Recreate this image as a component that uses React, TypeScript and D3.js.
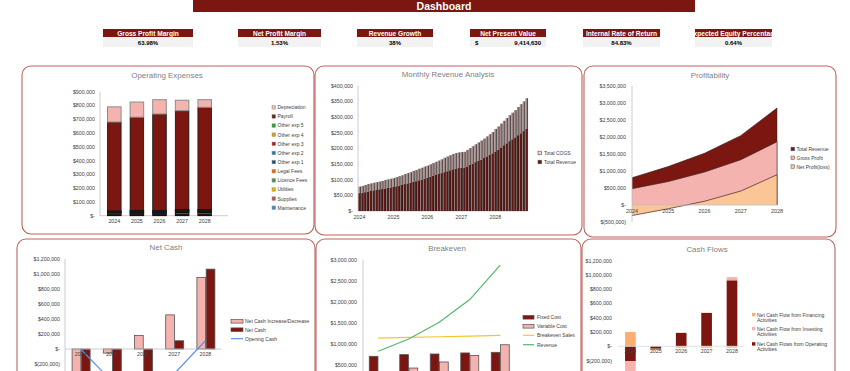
import React, { useEffect, useRef } from 'react';
import * as d3 from 'd3';

// ---- data ----
const years = ['2024', '2025', '2026', '2027', '2028'];

const kpiLabels = ['Gross Profit Margin', 'Net Profit Margin', 'Revenue Growth', 'Net Present Value', 'Internal Rate of Return', 'Expected Equity Percentage'];
const kpiValues = ['63.98%', '1.53%', '38%', '9,414,630', '84.83%', '0.64%'];

// operating expenses ($)
const maintenance = [5000, 5000, 5000, 6000, 6000];
const supplies = [6000, 6000, 6000, 7000, 7000];
const utilities = [8000, 4000, 4000, 9000, 9000];
const licenceFees = [4000, 3000, 3000, 5000, 5000];
const legalFees = [2000, 4000, 4000, 3000, 3000];
const otherExp1 = [2000, 3000, 3000, 3000, 3000];
const otherExp2 = [2000, 3000, 3000, 3000, 3000];
const otherExp3 = [2000, 4000, 4000, 3000, 3000];
const otherExp4 = [2000, 3000, 3000, 3000, 3000];
const otherExp5 = [2000, 3000, 3000, 3000, 3000];
const payroll = [645000, 677000, 700000, 717000, 742000];
const depreciation = [110000, 110000, 104000, 76000, 55000];

// monthly revenue analysis (thousands), 60 months
const monthlyRevenue = [
  57, 58, 60, 62, 64, 66, 67, 69, 70, 72, 74, 75,
  77, 79, 81, 83, 86, 88, 90, 93, 95, 98, 100, 103,
  106, 109, 112, 115, 118, 121, 124, 127, 130, 133, 135, 137,
  138, 139, 142, 147, 151, 156, 160, 164, 169, 174, 179, 184,
  190, 195, 203, 210, 216, 223, 229, 235, 242, 248, 255, 263,
];
const monthlyCogs = [
  21, 22, 23, 24, 24, 24, 25, 25, 26, 27, 27, 28,
  28, 29, 30, 31, 32, 33, 34, 35, 36, 37, 38, 39,
  39, 40, 41, 42, 43, 44, 46, 47, 48, 49, 50, 50,
  50, 50, 53, 54, 56, 57, 59, 61, 62, 64, 66, 68,
  72, 75, 76, 78, 81, 83, 85, 87, 90, 93, 95, 97,
];

// profitability
const totalRevenue = [800000, 1130000, 1520000, 2040000, 2850000];
const grossProfit = [480000, 690000, 970000, 1330000, 1860000];
const netProfit = [-310000, -110000, 110000, 410000, 890000];

// net cash
const netCashChange = [-430000, -55000, 180000, 455000, 955000];
const netCash = [-430000, -490000, -330000, 110000, 1065000];
const openingCash = [0, -430000, -490000, -330000, 110000];

// breakeven
const fixedCost = [700000, 740000, 755000, 780000, 795000];
const variableCost = [320000, 420000, 565000, 720000, 975000];
const breakevenSales = [1135000, 1150000, 1165000, 1180000, 1200000];
const beRevenue = [820000, 1110000, 1510000, 2050000, 2870000];

// cash flows
const cfOperating = [-210000, -35000, 187000, 467000, 925000];
const cfInvesting = [-300000, -5000, 5000, 5000, 45000];
const cfFinancing = [200000, -15000, -20000, -20000, -20000];

const DARK = '#7b1610';
const PINK = '#f4b3ae';
const PEACH = '#fbc596';
const FONT = 'Liberation Sans, Arial, sans-serif';

const money = (v: number) => {
  if (v === 0) return '$-';
  if (v < 0) return `$(${d3.format(',')(-v)})`;
  return `$${d3.format(',')(v)}`;
};

const App = () => {
  const svgRef = useRef<SVGSVGElement>(null);

  useEffect(() => {
    const svg = d3.select(svgRef.current);
    svg.selectAll('*').remove();

    // ---------- header ----------
    svg.append('rect').attr('x', 193).attr('y', 0).attr('width', 502).attr('height', 12).attr('fill', DARK);
    svg.append('text').attr('x', 444).attr('y', 9.5).attr('text-anchor', 'middle')
      .attr('font-size', 10.5).attr('font-weight', 'bold').attr('fill', '#fff').text('Dashboard');

    const kpiX = [103, 238, 357, 470, 583, 695];
    const kpiW = [90, 83, 76, 76, 77, 77];
    const defs = svg.append('defs');
    kpiLabels.forEach((label, i) => {
      const x = kpiX[i];
      const w = kpiW[i];
      defs.append('clipPath').attr('id', `kpi${i}`)
        .append('rect').attr('x', x).attr('y', 28).attr('width', w).attr('height', 20);
      svg.append('rect').attr('x', x).attr('y', 29).attr('width', w).attr('height', 8).attr('fill', DARK);
      svg.append('rect').attr('x', x).attr('y', 37).attr('width', w).attr('height', 10).attr('fill', '#f2f2f2');
      svg.append('text').attr('clip-path', `url(#kpi${i})`)
        .attr('x', x + w / 2).attr('y', 35.5).attr('text-anchor', 'middle')
        .attr('font-size', 6.6).attr('font-weight', 'bold').attr('fill', '#fff').text(label);
      if (i === 3) {
        svg.append('text').attr('x', x + 5).attr('y', 45).attr('font-size', 6)
          .attr('font-weight', 'bold').text('$');
        svg.append('text').attr('x', x + w - 5).attr('y', 45).attr('text-anchor', 'end')
          .attr('font-size', 6).attr('font-weight', 'bold').text(kpiValues[i]);
      } else {
        svg.append('text').attr('x', x + w / 2).attr('y', 45).attr('text-anchor', 'middle')
          .attr('font-size', 6).attr('font-weight', 'bold').text(kpiValues[i]);
      }
    });

    // ---------- helpers ----------
    const panel = (x: number, y: number, w: number, h: number, title: string, tx: number, ty: number) => {
      svg.append('rect').attr('x', x).attr('y', y).attr('width', w).attr('height', h).attr('rx', 9)
        .attr('fill', '#fff').attr('stroke', '#c0625e').attr('stroke-width', 1.1);
      svg.append('text').attr('x', tx).attr('y', ty + 3).attr('text-anchor', 'middle')
        .attr('font-size', 7.9).attr('fill', '#7f7f7f').text(title);
    };

    const yLabels = (scale: d3.ScaleLinear<number, number>, ticks: number[], xr: number) => {
      ticks.filter(t => scale(t) + 2 < 369).forEach(t => {
        svg.append('text').attr('x', xr).attr('y', scale(t) + 2).attr('text-anchor', 'end')
          .attr('font-size', 5.3).attr('fill', '#404040').text(money(t));
      });
    };

    const axisLine = (x1: number, y1: number, x2: number, y2: number, color = '#bfbfbf') => {
      svg.append('line').attr('x1', x1).attr('y1', y1).attr('x2', x2).attr('y2', y2)
        .attr('stroke', color).attr('stroke-width', 0.8);
    };

    const legendText = (x: number, y: number, t: string) => {
      svg.append('text').attr('x', x).attr('y', y + 1.9).attr('font-size', 5).attr('fill', '#404040').text(t);
    };

    const yearLabels = (xs: (y: string) => number, y: number) => {
      years.forEach(yr => {
        svg.append('text').attr('x', xs(yr)).attr('y', y).attr('text-anchor', 'middle')
          .attr('font-size', 5.3).attr('fill', '#404040').text(yr);
      });
    };

    // ---------- Operating Expenses ----------
    panel(22, 66, 292, 168, 'Operating Expenses', 167, 75);
    const opexKeys = ['Maintenance', 'Supplies', 'Utilities', 'Licence Fees', 'Legal Fees', 'Other exp 1',
      'Other exp 2', 'Other exp 3', 'Other exp 4', 'Other exp 5', 'Payroll', 'Depreciation'];
    const opexArrays = [maintenance, supplies, utilities, licenceFees, legalFees, otherExp1, otherExp2,
      otherExp3, otherExp4, otherExp5, payroll, depreciation];
    const opexColors = ['#4f81bd', '#c0504d', '#e6b000', '#3f9a48', '#e46c0a', '#1f4e79', '#2e75b6',
      '#b01c16', '#d6a000', '#3a9a3a', DARK, PINK];
    const opexRows = years.map((yr, i) => {
      const r: any = { year: yr };
      opexKeys.forEach((k, j) => { r[k] = opexArrays[j][i]; });
      return r;
    });
    const opexStack = d3.stack().keys(opexKeys)(opexRows);
    const oy = d3.scaleLinear().domain([0, 900000]).range([215.7, 91.7]);
    const ox = d3.scaleBand().domain(years).range([103, 216]).paddingInner(0.4).paddingOuter(0.2);
    yLabels(oy, d3.range(0, 900001, 100000), 95);
    axisLine(100, 91.7, 100, 215.7);
    axisLine(100, 215.7, 228, 215.7);
    opexStack.forEach((s, j) => {
      svg.append('g').selectAll('rect').data(s).enter().append('rect')
        .attr('x', d => ox(d.data.year as any)!)
        .attr('width', ox.bandwidth())
        .attr('y', d => oy(d[1]))
        .attr('height', d => oy(d[0]) - oy(d[1]))
        .attr('fill', opexColors[j])
        .attr('stroke', j === 11 ? '#8c8c8c' : '#111')
        .attr('stroke-width', j === 11 ? 1 : 0.8);
    });
    yearLabels(yr => ox(yr)! + ox.bandwidth() / 2, 223);
    [...opexKeys].reverse().forEach((k, i) => {
      const y = 107.3 + i * 9.13;
      svg.append('rect').attr('x', 272).attr('y', y - 1.8).attr('width', 3.6).attr('height', 3.6)
        .attr('fill', opexColors[11 - i]).attr('stroke', '#999').attr('stroke-width', 0.5);
      legendText(277.5, y, k);
    });

    // ---------- Monthly Revenue Analysis ----------
    panel(315, 66, 267, 169, 'Monthly Revenue Analysis', 448, 74.3);
    const months = d3.range(monthlyRevenue.length);
    const my = d3.scaleLinear().domain([0, 400]).range([211, 85.7]);
    const mx = d3.scaleBand<number>().domain(months).range([358, 528]).paddingInner(0.25).paddingOuter(0.15);
    yLabels(d3.scaleLinear().domain([0, 400000]).range([211, 85.7]), d3.range(0, 400001, 50000), 353);
    axisLine(358, 85.7, 358, 211);
    axisLine(358, 211, 528, 211);
    const monthRows = months.map(i => ({ m: i, rev: monthlyRevenue[i], cogs: monthlyCogs[i] }));
    const mStack = d3.stack<any>().keys(['rev', 'cogs'])(monthRows);
    const mColors = ['#5e1a15', '#a48a88'];
    mStack.forEach((s, j) => {
      svg.append('g').selectAll('rect').data(s).enter().append('rect')
        .attr('x', d => mx(d.data.m)!)
        .attr('width', mx.bandwidth())
        .attr('y', d => my(d[1]))
        .attr('height', d => my(d[0]) - my(d[1]))
        .attr('fill', mColors[j]);
    });
    svg.append('g').selectAll('line').data(monthRows).enter().append('line')
      .attr('x1', d => mx(d.m)! + mx.bandwidth()).attr('x2', d => mx(d.m)! + mx.bandwidth())
      .attr('y1', d => my(d.rev + d.cogs)).attr('y2', my(0))
      .attr('stroke', '#111').attr('stroke-width', 0.7);
    years.forEach((yr, i) => {
      svg.append('text').attr('x', mx(i * 12)! + mx.bandwidth() / 2).attr('y', 219)
        .attr('text-anchor', 'middle').attr('font-size', 5.3).attr('fill', '#404040').text(yr);
    });
    [['Total COGS', '#f4d6d4'], ['Total Revenue', '#5e1a15']].forEach(([t, c], i) => {
      const y = 153 + i * 9;
      svg.append('rect').attr('x', 538).attr('y', y - 1.8).attr('width', 3.6).attr('height', 3.6)
        .attr('fill', c).attr('stroke', '#555').attr('stroke-width', 0.6);
      legendText(544, y, t);
    });

    // ---------- Profitability ----------
    panel(584, 66, 252, 171, 'Profitability', 710, 75);
    const py = d3.scaleLinear().domain([-500000, 3500000]).range([222, 86]);
    const px = d3.scalePoint().domain(years).range([632, 777]);
    yLabels(py, d3.range(-500000, 3500001, 500000), 626);
    const areaOf = (vals: number[], fill: string) => {
      const area = d3.area<number>().x((_, i) => px(years[i])!).y0(py(0)).y1(d => py(d));
      const line = d3.line<number>().x((_, i) => px(years[i])!).y(d => py(d));
      svg.append('path').attr('d', area(vals)).attr('fill', fill);
      svg.append('path').attr('d', line(vals)).attr('fill', 'none').attr('stroke', '#3b2222').attr('stroke-width', 0.7);
      svg.append('line').attr('x1', px('2028')!).attr('x2', px('2028')!).attr('y1', py(0)).attr('y2', py(vals[4]))
        .attr('stroke', '#3b2222').attr('stroke-width', 0.5);
    };
    areaOf(totalRevenue, DARK);
    areaOf(grossProfit, PINK);
    areaOf(netProfit, PEACH);
    axisLine(632, 86, 632, 222);
    axisLine(632, py(0), 777, py(0));
    yearLabels(yr => px(yr)!, 213);
    [['Total Revenue', DARK], ['Gross Profit', PINK], ['Net Profit(loss)', PEACH]].forEach(([t, c], i) => {
      const y = 149 + i * 8.8;
      svg.append('rect').attr('x', 791).attr('y', y - 1.8).attr('width', 3.6).attr('height', 3.6)
        .attr('fill', c).attr('stroke', '#555').attr('stroke-width', 0.5);
      legendText(796.5, y, t);
    });

    // ---------- Net Cash ----------
    panel(17, 239, 298, 150, 'Net Cash', 166, 247);
    const ny = d3.scaleLinear().domain([-600000, 1200000]).range([394, 259]);
    const nx = d3.scaleBand().domain(years).range([65, 221]);
    const nInner = d3.scaleBand().domain(['chg', 'cash']).range([-8.5, 9.5]).paddingInner(0.06);
    yLabels(ny, d3.range(-400000, 1200001, 200000), 60);
    axisLine(65, 259, 65, 371);
    const nSeries: [string, number[], string][] = [['chg', netCashChange, PINK], ['cash', netCash, DARK]];
    nSeries.forEach(([k, vals, c]) => {
      svg.append('g').selectAll('rect').data(vals).enter().append('rect')
        .attr('x', (_, i) => nx(years[i])! + nx.bandwidth() / 2 + nInner(k)!)
        .attr('width', nInner.bandwidth())
        .attr('y', d => ny(Math.max(0, d)))
        .attr('height', d => Math.abs(ny(d) - ny(0)))
        .attr('fill', c).attr('stroke', '#555').attr('stroke-width', 0.8);
    });
    axisLine(65, ny(0), 221, ny(0));
    svg.append('path')
      .attr('d', d3.line<number>().x((_, i) => nx(years[i])! + nx.bandwidth() / 2).y(d => ny(d))(openingCash))
      .attr('fill', 'none').attr('stroke', '#5b8ff0').attr('stroke-width', 1.2);
    yearLabels(yr => nx(yr)! + nx.bandwidth() / 2, 356);
    legendText(245, 321.3, 'Net Cash Increase/Decrease');
    legendText(245, 329.7, 'Net Cash');
    legendText(245, 338.7, 'Opening Cash');
    svg.append('rect').attr('x', 231).attr('y', 319.5).attr('width', 12).attr('height', 3.6)
      .attr('fill', PINK).attr('stroke', '#555').attr('stroke-width', 0.7);
    svg.append('rect').attr('x', 231).attr('y', 327.9).attr('width', 12).attr('height', 3.6)
      .attr('fill', DARK).attr('stroke', '#555').attr('stroke-width', 0.7);
    svg.append('line').attr('x1', 231).attr('x2', 243).attr('y1', 338.7).attr('y2', 338.7)
      .attr('stroke', '#5b8ff0').attr('stroke-width', 1.2);

    // ---------- Breakeven ----------
    panel(316, 239, 265, 150, 'Breakeven', 447, 248);
    const by = d3.scaleLinear().domain([0, 3000000]).range([385.7, 259.7]);
    const bx = d3.scaleBand().domain(years).range([363, 515.5]);
    const bInner = d3.scaleBand().domain(['fixed', 'var']).range([-9, 9]).paddingInner(0.06);
    yLabels(by, d3.range(0, 3000001, 500000), 357);
    axisLine(363, 259.7, 363, 385.7);
    const bSeries: [string, number[], string][] = [['fixed', fixedCost, DARK], ['var', variableCost, PINK]];
    bSeries.forEach(([k, vals, c]) => {
      svg.append('g').selectAll('rect').data(vals).enter().append('rect')
        .attr('x', (_, i) => bx(years[i])! + bx.bandwidth() / 2 + bInner(k)!)
        .attr('width', bInner.bandwidth())
        .attr('y', d => by(d))
        .attr('height', d => by(0) - by(d))
        .attr('fill', c).attr('stroke', '#555').attr('stroke-width', 0.8);
    });
    const bLine = d3.line<number>().x((_, i) => bx(years[i])! + bx.bandwidth() / 2).y(d => by(d));
    svg.append('path').attr('d', bLine(breakevenSales)).attr('fill', 'none').attr('stroke', '#f7c430').attr('stroke-width', 1.2);
    svg.append('path').attr('d', bLine(beRevenue)).attr('fill', 'none').attr('stroke', '#4fba6a').attr('stroke-width', 1.2);
    [['Fixed Cost', DARK], ['Variable Cost', PINK]].forEach(([t, c], i) => {
      const y = 317.3 + i * 9;
      svg.append('rect').attr('x', 523).attr('y', y - 1.8).attr('width', 11).attr('height', 3.6)
        .attr('fill', c).attr('stroke', '#555').attr('stroke-width', 0.7);
      legendText(537, y, t);
    });
    [['Breakeven Sales', '#f7c430'], ['Revenue', '#4fba6a']].forEach(([t, c], i) => {
      const y = 335.3 + i * 9.4;
      svg.append('line').attr('x1', 523).attr('x2', 534).attr('y1', y).attr('y2', y)
        .attr('stroke', c).attr('stroke-width', 1.2);
      legendText(537, y, t);
    });

    // ---------- Cash Flows ----------
    panel(582, 239, 253, 150, 'Cash Flows', 707, 249);
    const cy = d3.scaleLinear().domain([-400000, 1200000]).range([374.8, 260.7]);
    const cx = d3.scaleBand().domain(years).range([617.7, 744.7]).paddingInner(0.58).paddingOuter(0.29);
    yLabels(cy, d3.range(-200000, 1200001, 200000), 612);
    const cfKeys = ['operating', 'investing', 'financing'];
    const cfColors = ['#7b1610', '#f6b3ae', '#fbae72'];
    const cfRows = years.map((yr, i) => ({ year: yr, operating: cfOperating[i], investing: cfInvesting[i], financing: cfFinancing[i] }));
    const cfStack = d3.stack<any>().keys(cfKeys).offset(d3.stackOffsetDiverging)(cfRows);
    cfStack.forEach((s, j) => {
      svg.append('g').selectAll('rect').data(s).enter().append('rect')
        .attr('x', d => cx(d.data.year)!)
        .attr('width', cx.bandwidth())
        .attr('y', d => cy(Math.max(d[0], d[1])))
        .attr('height', d => Math.abs(cy(d[0]) - cy(d[1])))
        .attr('fill', cfColors[j]);
    });
    axisLine(617.7, cy(0), 744.7, cy(0), '#d9d9d9');
    yearLabels(yr => cx(yr)! + cx.bandwidth() / 2, 353);
    const cfLegend = [
      ['Net Cash Flow from Financing', '#fbae72'],
      ['Net Cash Flow from Investing', '#f6b3ae'],
      ['Net Cash Flows from Operating', '#7b1610'],
    ];
    const cfLegendY = [314.7, 328.7, 344];
    cfLegend.forEach(([t, c], i) => {
      const y = cfLegendY[i];
      svg.append('rect').attr('x', 752).attr('y', y - 1.8).attr('width', 3.4).attr('height', 3.4).attr('fill', c);
      legendText(757, y, t);
      legendText(757, y + 5.4, 'Activities');
    });
  }, []);

  return (
    <svg
      ref={svgRef}
      width={850}
      height={371}
      style={{ position: 'absolute', left: 0, top: 0, background: '#fff', fontFamily: FONT }}
    />
  );
};

export default App;
